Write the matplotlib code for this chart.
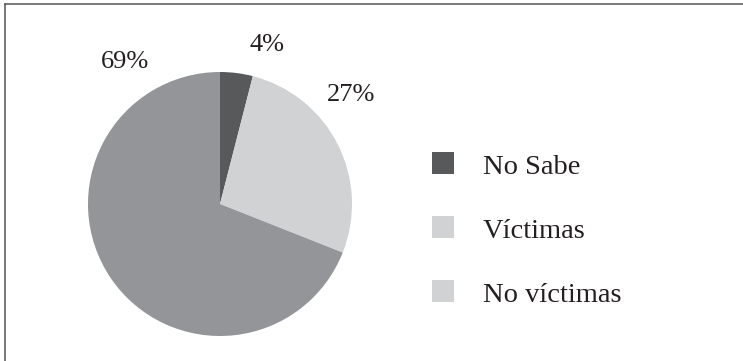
import matplotlib
matplotlib.use("Agg")
import matplotlib.pyplot as plt
from matplotlib.patches import Rectangle
from matplotlib.lines import Line2D

# Data
categories = ["No Sabe", "Víctimas", "No víctimas"]
shares = [4, 27, 69]
slice_colors = ["#58595b", "#d1d2d4", "#939598"]
legend_colors = ["#58595b", "#d1d2d4", "#d1d2d4"]

plt.rcParams["font.family"] = ["Liberation Serif", "DejaVu Serif"]

W, H = 743, 361
fig = plt.figure(figsize=(W / 100, H / 100), dpi=100)
fig.patch.set_facecolor("white")

def fx(px):
    return px / W

def fy(py):
    return (H - py) / H

# Pie axes: centre (220, 204) px, radius 132 px
cx, cy, r = 220, 204, 132
ax = fig.add_axes([fx(cx - r), fy(cy + r), 2 * r / W, 2 * r / H])
wedges, _ = ax.pie(shares, colors=slice_colors, startangle=90,
                   counterclock=False, radius=1.0,
                   wedgeprops=dict(linewidth=0))
ax.set_xlim(-1, 1)
ax.set_ylim(-1, 1)
ax.set_aspect("equal")
ax.axis("off")

# Percentage labels placed around the pie (in pie radius units)
label_pos = [(0.356, 1.205), (0.992, 0.826), (-0.720, 1.076)]
for v, (lx, ly) in zip(shares, label_pos):
    ax.text(lx, ly, f"{v}%", ha="center", va="center", fontsize=19,
            color="#231f20", clip_on=False)

# Legend drawn as squares with labels
sq = 22
for i, (name, col) in enumerate(zip(categories, legend_colors)):
    bottom = 174 + i * 64
    fig.add_artist(Rectangle((fx(432), fy(bottom)), sq / W, sq / H,
                             transform=fig.transFigure, facecolor=col,
                             edgecolor="none"))
    fig.text(fx(483), fy(bottom), name, ha="left", va="baseline",
             fontsize=20.5, color="#231f20")

# Frame lines along the top and left
fig.add_artist(Line2D([fx(4.5), fx(743)], [fy(3.5), fy(3.5)],
                      transform=fig.transFigure, color="#555555", lw=1.1))
fig.add_artist(Line2D([fx(4.5), fx(4.5)], [fy(3.5), fy(361)],
                      transform=fig.transFigure, color="#555555", lw=1.1))

fig.savefig("out.png", dpi=100)
